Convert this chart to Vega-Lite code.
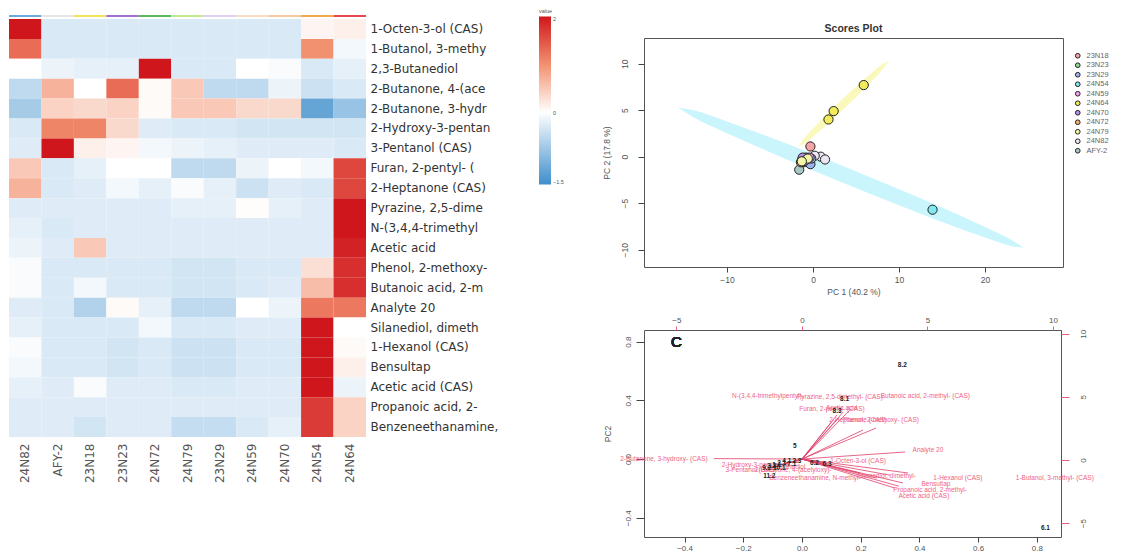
{
  "$schema": "https://vega.github.io/schema/vega-lite/v6.json",
  "background": "white",
  "padding": {"left": 9, "top": 9, "right": 0, "bottom": 0},
  "config": {"font": "Liberation Sans"},
  "spacing": 37,
  "resolve": {"scale": {"color": "independent", "fill": "independent"}, "legend": {"color": "independent", "fill": "independent"}},
  "hconcat": [
    {
      "vconcat": [
        {
          "width": 357,
          "height": 2,
          "view": {"stroke": null},
          "data": {"values": [{"sample": "24N82"}, {"sample": "AFY-2"}, {"sample": "23N18"}, {"sample": "23N23"}, {"sample": "24N72"}, {"sample": "24N79"}, {"sample": "23N29"}, {"sample": "24N59"}, {"sample": "24N70"}, {"sample": "24N54"}, {"sample": "24N64"}]},
          "mark": {"type": "rect"},
          "encoding": {
            "x": {"field": "sample", "type": "nominal", "sort": ["24N82", "AFY-2", "23N18", "23N23", "24N72", "24N79", "23N29", "24N59", "24N70", "24N54", "24N64"], "axis": null},
            "color": {"field": "sample", "type": "nominal", "legend": null,
              "scale": {"domain": ["24N82", "AFY-2", "23N18", "23N23", "24N72", "24N79", "23N29", "24N59", "24N70", "24N54", "24N64"],
                        "range": ["#6fa8dc", "#e6e6e6", "#f3e25a", "#a070d0", "#5cb85c", "#c2e894", "#ddd0f0", "#f8dcc8", "#f8c8a0", "#f0a848", "#e84850"]}}
          }
        },
        {
          "width": 357,
          "height": 418,
          "view": {"stroke": null},
          "data": {"values": [
            {"compound": "1-Octen-3-ol (CAS)", "24N82": 2.0, "AFY-2": -0.3, "23N18": -0.3, "23N23": -0.3, "24N72": -0.3, "24N79": -0.3, "23N29": -0.3, "24N59": -0.3, "24N70": -0.3, "24N54": 0.1, "24N64": 0.15},
            {"compound": "1-Butanol, 3-methy", "24N82": 1.3, "AFY-2": -0.3, "23N18": -0.3, "23N23": -0.3, "24N72": -0.3, "24N79": -0.3, "23N29": -0.3, "24N59": -0.3, "24N70": -0.3, "24N54": 1.0, "24N64": -0.1},
            {"compound": "2,3-Butanediol", "24N82": 0.0, "AFY-2": -0.15, "23N18": -0.2, "23N23": -0.2, "24N72": 2.0, "24N79": -0.3, "23N29": -0.3, "24N59": 0.0, "24N70": -0.05, "24N54": -0.3, "24N64": -0.2},
            {"compound": "2-Butanone, 4-(ace", "24N82": -0.5, "AFY-2": 0.7, "23N18": 0.0, "23N23": 1.3, "24N72": 0.05, "24N79": 0.5, "23N29": -0.5, "24N59": -0.5, "24N70": -0.15, "24N54": -0.4, "24N64": -0.3},
            {"compound": "2-Butanone, 3-hydr", "24N82": -0.7, "AFY-2": 0.4, "23N18": 0.35, "23N23": 0.4, "24N72": 0.05, "24N79": 0.5, "23N29": 0.5, "24N59": 0.35, "24N70": 0.35, "24N54": -1.2, "24N64": -0.8},
            {"compound": "2-Hydroxy-3-pentan", "24N82": -0.3, "AFY-2": 1.1, "23N18": 1.1, "23N23": 0.35, "24N72": -0.25, "24N79": -0.3, "23N29": -0.3, "24N59": -0.35, "24N70": -0.35, "24N54": -0.35, "24N64": -0.35},
            {"compound": "3-Pentanol (CAS)", "24N82": -0.25, "AFY-2": 2.0, "23N18": 0.15, "23N23": 0.1, "24N72": -0.1, "24N79": -0.15, "23N29": -0.2, "24N59": -0.25, "24N70": -0.25, "24N54": -0.25, "24N64": -0.3},
            {"compound": "Furan, 2-pentyl- (", "24N82": 0.5, "AFY-2": -0.3, "23N18": -0.2, "23N23": 0.0, "24N72": 0.0, "24N79": -0.5, "23N29": -0.5, "24N59": -0.15, "24N70": 0.0, "24N54": -0.1, "24N64": 1.6},
            {"compound": "2-Heptanone (CAS)", "24N82": 0.7, "AFY-2": -0.3, "23N18": -0.25, "23N23": -0.1, "24N72": -0.2, "24N79": -0.05, "23N29": -0.2, "24N59": -0.4, "24N70": -0.25, "24N54": -0.3, "24N64": 1.6},
            {"compound": "Pyrazine, 2,5-dime", "24N82": -0.25, "AFY-2": -0.25, "23N18": -0.25, "23N23": -0.25, "24N72": -0.25, "24N79": -0.2, "23N29": -0.2, "24N59": 0.02, "24N70": -0.2, "24N54": -0.25, "24N64": 2.0},
            {"compound": "N-(3,4,4-trimethyl", "24N82": -0.2, "AFY-2": -0.3, "23N18": -0.25, "23N23": -0.25, "24N72": -0.25, "24N79": -0.25, "23N29": -0.25, "24N59": -0.25, "24N70": -0.25, "24N54": -0.25, "24N64": 2.0},
            {"compound": "Acetic acid", "24N82": -0.15, "AFY-2": -0.25, "23N18": 0.5, "23N23": -0.25, "24N72": -0.25, "24N79": -0.25, "23N29": -0.25, "24N59": -0.25, "24N70": -0.25, "24N54": -0.25, "24N64": 1.9},
            {"compound": "Phenol, 2-methoxy-", "24N82": -0.05, "AFY-2": -0.3, "23N18": -0.3, "23N23": -0.3, "24N72": -0.3, "24N79": -0.35, "23N29": -0.35, "24N59": -0.3, "24N70": -0.3, "24N54": 0.3, "24N64": 1.8},
            {"compound": "Butanoic acid, 2-m", "24N82": -0.05, "AFY-2": -0.3, "23N18": -0.1, "23N23": -0.3, "24N72": -0.3, "24N79": -0.35, "23N29": -0.35, "24N59": -0.3, "24N70": -0.25, "24N54": 0.6, "24N64": 1.8},
            {"compound": "Analyte 20", "24N82": -0.25, "AFY-2": -0.3, "23N18": -0.6, "23N23": 0.05, "24N72": -0.2, "24N79": -0.5, "23N29": -0.5, "24N59": 0.0, "24N70": -0.15, "24N54": 1.2, "24N64": 1.2},
            {"compound": "Silanediol, dimeth", "24N82": -0.2, "AFY-2": -0.3, "23N18": -0.3, "23N23": -0.3, "24N72": -0.1, "24N79": -0.3, "23N29": -0.3, "24N59": -0.25, "24N70": -0.25, "24N54": 2.0, "24N64": 0.0},
            {"compound": "1-Hexanol (CAS)", "24N82": -0.05, "AFY-2": -0.3, "23N18": -0.3, "23N23": -0.35, "24N72": -0.3, "24N79": -0.4, "23N29": -0.4, "24N59": -0.3, "24N70": -0.3, "24N54": 2.0, "24N64": 0.05},
            {"compound": "Bensultap", "24N82": -0.1, "AFY-2": -0.3, "23N18": -0.3, "23N23": -0.35, "24N72": -0.3, "24N79": -0.4, "23N29": -0.4, "24N59": -0.3, "24N70": -0.3, "24N54": 2.0, "24N64": 0.15},
            {"compound": "Acetic acid (CAS)", "24N82": -0.2, "AFY-2": -0.25, "23N18": -0.05, "23N23": -0.25, "24N72": -0.25, "24N79": -0.3, "23N29": -0.3, "24N59": -0.25, "24N70": -0.25, "24N54": 2.0, "24N64": -0.15},
            {"compound": "Propanoic acid, 2-", "24N82": -0.25, "AFY-2": -0.25, "23N18": -0.25, "23N23": -0.25, "24N72": -0.25, "24N79": -0.25, "23N29": -0.25, "24N59": -0.25, "24N70": -0.25, "24N54": 1.7, "24N64": 0.4},
            {"compound": "Benzeneethanamine,", "24N82": -0.25, "AFY-2": -0.25, "23N18": -0.35, "23N23": -0.25, "24N72": -0.25, "24N79": -0.45, "23N29": -0.45, "24N59": -0.3, "24N70": -0.2, "24N54": 1.7, "24N64": 0.4}
          ]},
          "transform": [{"fold": ["24N82", "AFY-2", "23N18", "23N23", "24N72", "24N79", "23N29", "24N59", "24N70", "24N54", "24N64"], "as": ["sample", "value"]}],
          "mark": {"type": "rect"},
          "encoding": {
            "x": {"field": "sample", "type": "nominal", "sort": ["24N82", "AFY-2", "23N18", "23N23", "24N72", "24N79", "23N29", "24N59", "24N70", "24N54", "24N64"],
                  "axis": {"orient": "bottom", "title": null, "ticks": false, "domain": false, "labelAngle": -90, "labelAlign": "right", "labelBaseline": "middle", "labelPadding": 6, "labelFont": "DejaVu Sans", "labelFontSize": 12, "labelColor": "#555"}},
            "y": {"field": "compound", "type": "nominal",
                  "sort": ["1-Octen-3-ol (CAS)", "1-Butanol, 3-methy", "2,3-Butanediol", "2-Butanone, 4-(ace", "2-Butanone, 3-hydr", "2-Hydroxy-3-pentan", "3-Pentanol (CAS)", "Furan, 2-pentyl- (", "2-Heptanone (CAS)", "Pyrazine, 2,5-dime", "N-(3,4,4-trimethyl", "Acetic acid", "Phenol, 2-methoxy-", "Butanoic acid, 2-m", "Analyte 20", "Silanediol, dimeth", "1-Hexanol (CAS)", "Bensultap", "Acetic acid (CAS)", "Propanoic acid, 2-", "Benzeneethanamine,"],
                  "axis": {"orient": "right", "title": null, "ticks": false, "domain": false, "labelPadding": 4, "labelFont": "DejaVu Sans", "labelFontSize": 12, "labelColor": "#333", "labelLimit": 300}},
            "color": {"field": "value", "type": "quantitative",
                      "scale": {"domain": [-1.5, 0, 1, 2], "range": ["#3f8fcc", "#ffffff", "#f2916f", "#d0161d"], "interpolate": "rgb"},
                      "legend": {"orient": "none", "legendX": 530, "legendY": -10, "title": "value", "titleFontSize": 5.5, "titleFontWeight": "normal", "titleColor": "#555", "titlePadding": 2, "gradientLength": 168, "gradientThickness": 12, "gradientStrokeWidth": 0, "labelFontSize": 5.5, "labelColor": "#555", "labelOffset": 2, "values": [-1.5, 0, 2], "format": ".1~f", "direction": "vertical"}}
          }
        }
      ],
      "spacing": 2,
      "bounds": "flush",
      "resolve": {"scale": {"color": "independent"}, "legend": {"color": "independent"}}
    },
    {
      "vconcat": [
        {
          "width": 419,
          "height": 23,
          "view": {"stroke": null},
          "data": {"values": [{"t": "Scores Plot"}]},
          "mark": {"type": "text", "fontSize": 10.5, "fontWeight": "bold", "color": "#333", "dy": 2},
          "encoding": {"text": {"field": "t"}}
        },
        {
          "width": 419,
          "height": 229,
          "view": {"stroke": "#555", "strokeWidth": 1},
          "layer": [
            {
              "data": {"values": [
                {"sample": "24N54", "pc1": -15.7, "lo": 5.3, "hi": 5.3},
                {"sample": "24N54", "pc1": -14, "lo": 4.3, "hi": 5.02},
                {"sample": "24N54", "pc1": -10, "lo": 2.53, "hi": 3.79},
                {"sample": "24N54", "pc1": -5, "lo": 0.48, "hi": 2.08},
                {"sample": "24N54", "pc1": 0, "lo": -1.48, "hi": 0.28},
                {"sample": "24N54", "pc1": 4.4, "lo": -3.15, "hi": -1.35},
                {"sample": "24N54", "pc1": 10, "lo": -5.22, "hi": -3.5},
                {"sample": "24N54", "pc1": 15, "lo": -7.01, "hi": -5.47},
                {"sample": "24N54", "pc1": 20, "lo": -8.69, "hi": -7.55},
                {"sample": "24N54", "pc1": 23, "lo": -9.59, "hi": -8.91},
                {"sample": "24N54", "pc1": 24.5, "lo": -9.8, "hi": -9.8},
                {"sample": "24N64", "pc1": -1.7, "lo": 1.1, "hi": 1.1},
                {"sample": "24N64", "pc1": -1, "lo": 1.41, "hi": 2.01},
                {"sample": "24N64", "pc1": 0, "lo": 2.15, "hi": 3.03},
                {"sample": "24N64", "pc1": 2, "lo": 3.77, "hi": 4.91},
                {"sample": "24N64", "pc1": 3.55, "lo": 5.1, "hi": 6.3},
                {"sample": "24N64", "pc1": 5, "lo": 6.39, "hi": 7.55},
                {"sample": "24N64", "pc1": 7, "lo": 8.27, "hi": 9.17},
                {"sample": "24N64", "pc1": 8, "lo": 9.28, "hi": 9.92},
                {"sample": "24N64", "pc1": 8.8, "lo": 10.3, "hi": 10.3}
              ]},
              "mark": {"type": "area", "opacity": 0.6, "interpolate": "monotone"},
              "encoding": {
                "x": {"field": "pc1", "type": "quantitative", "scale": {"domain": [-19.65, 29.07], "nice": false, "zero": false},
                      "axis": {"values": [-10, 0, 10, 20], "title": "PC 1 (40.2 %)", "domain": false, "grid": false, "tickColor": "#444", "tickSize": 5, "labelFontSize": 8.5, "labelColor": "#555", "labelPadding": 3, "titleFontSize": 8.5, "titleFontWeight": "normal", "titleColor": "#555", "titlePadding": 4}},
                "y": {"field": "lo", "type": "quantitative", "scale": {"domain": [-11.86, 12.76], "nice": false, "zero": false},
                      "axis": {"values": [-10, -5, 0, 5, 10], "title": "PC 2 (17.8 %)", "domain": false, "grid": false, "tickColor": "#444", "tickSize": 6, "labelAngle": -90, "labelAlign": "center", "labelBaseline": "bottom", "labelFontSize": 8.5, "labelColor": "#555", "labelPadding": 9, "titleFontSize": 8.5, "titleFontWeight": "normal", "titleColor": "#555", "titlePadding": 9}},
                "y2": {"field": "hi"},
                "fill": {"field": "sample", "type": "nominal", "scale": {"domain": ["24N54", "24N64"], "range": ["#a6eefa", "#f6f58e"]}, "legend": null}
              }
            },
            {
              "data": {"values": [
                {"sample": "24N64", "pc1": 5.9, "pc2": 7.7},
                {"sample": "24N64", "pc1": 2.4, "pc2": 4.9},
                {"sample": "24N64", "pc1": 1.8, "pc2": 4.0},
                {"sample": "24N54", "pc1": 13.9, "pc2": -5.7},
                {"sample": "24N54", "pc1": -0.7, "pc2": -0.3},
                {"sample": "24N54", "pc1": -0.5, "pc2": -0.6},
                {"sample": "23N18", "pc1": -0.3, "pc2": 1.1},
                {"sample": "23N18", "pc1": -1.1, "pc2": -0.6},
                {"sample": "23N18", "pc1": -0.9, "pc2": -0.2},
                {"sample": "24N82", "pc1": 0.9, "pc2": 0.0},
                {"sample": "24N82", "pc1": 1.4, "pc2": -0.3},
                {"sample": "24N82", "pc1": 0.2, "pc2": 0.1},
                {"sample": "23N29", "pc1": -0.3, "pc2": -0.8},
                {"sample": "23N29", "pc1": -0.2, "pc2": -0.2},
                {"sample": "AFY-2", "pc1": -1.6, "pc2": -1.4},
                {"sample": "AFY-2", "pc1": -1.3, "pc2": -0.4},
                {"sample": "23N23", "pc1": -1.2, "pc2": -0.5},
                {"sample": "23N23", "pc1": -1.0, "pc2": -0.3},
                {"sample": "24N72", "pc1": -0.8, "pc2": -0.1},
                {"sample": "24N72", "pc1": -1.4, "pc2": -0.6},
                {"sample": "24N70", "pc1": -1.0, "pc2": -0.2},
                {"sample": "24N70", "pc1": -1.2, "pc2": -0.1},
                {"sample": "24N59", "pc1": -0.9, "pc2": -0.4},
                {"sample": "24N59", "pc1": -0.4, "pc2": -0.1},
                {"sample": "24N79", "pc1": -0.6, "pc2": -0.2},
                {"sample": "24N79", "pc1": -1.3, "pc2": -0.5}
              ]},
              "mark": {"type": "point", "filled": true, "stroke": "#222", "strokeWidth": 1, "size": 85, "opacity": 1},
              "encoding": {
                "x": {"field": "pc1", "type": "quantitative", "scale": {"domain": [-19.65, 29.07], "nice": false, "zero": false},
                      "axis": {"values": [-10, 0, 10, 20], "title": "PC 1 (40.2 %)", "domain": false, "grid": false, "tickColor": "#444", "tickSize": 5, "labelFontSize": 8.5, "labelColor": "#555", "labelPadding": 3, "titleFontSize": 8.5, "titleFontWeight": "normal", "titleColor": "#555", "titlePadding": 4}},
                "y": {"field": "pc2", "type": "quantitative", "scale": {"domain": [-11.86, 12.76], "nice": false, "zero": false},
                      "axis": {"values": [-10, -5, 0, 5, 10], "title": "PC 2 (17.8 %)", "domain": false, "grid": false, "tickColor": "#444", "tickSize": 6, "labelAngle": -90, "labelAlign": "center", "labelBaseline": "bottom", "labelFontSize": 8.5, "labelColor": "#555", "labelPadding": 9, "titleFontSize": 8.5, "titleFontWeight": "normal", "titleColor": "#555", "titlePadding": 9}},
                "color": {"field": "sample", "type": "nominal",
                          "scale": {"domain": ["23N18", "23N23", "23N29", "24N54", "24N59", "24N64", "24N70", "24N72", "24N79", "24N82", "AFY-2"],
                                    "range": ["#f5a3a3", "#90d890", "#9bb4f0", "#80e8ee", "#f5a0f5", "#f2ec5a", "#b58ce8", "#f5b070", "#f5f5a8", "#ece6f2", "#a8c8c4"]},
                          "legend": {"orient": "none", "legendX": 430, "legendY": 14, "title": null, "labelFontSize": 7.5, "labelColor": "#666", "symbolSize": 22, "symbolType": "circle", "symbolStrokeWidth": 1, "rowPadding": -0.5, "labelOffset": 5}}
              }
            },
            {
              "mark": {"type": "text", "text": "B", "fontSize": 15, "color": "#222", "align": "left", "baseline": "middle"},
              "encoding": {"x": {"datum": -16.9}, "y": {"datum": 11.15}}
            }
          ]
        },
        {
          "width": 419,
          "height": 63,
          "view": {"stroke": null},
          "data": {"values": []},
          "mark": "point"
        },
        {
          "width": 417,
          "height": 207,
          "view": {"stroke": "#555", "strokeWidth": 1},
          "resolve": {"scale": {"x": "independent", "y": "independent"}},
          "layer": [
            {
              "data": {"values": [
                {"compound": "N-(3,4,4-trimethylpentyl)-", "pc1": 0.163, "pc2": 0.334, "lx": -0.116, "ly": 0.429},
                {"compound": "Pyrazine, 2,5-dimethyl- (CAS)", "pc1": 0.14, "pc2": 0.32, "lx": 0.129, "ly": 0.422},
                {"compound": "Butanoic acid, 2-methyl- (CAS)", "pc1": 0.119, "pc2": 0.3, "lx": 0.42, "ly": 0.429},
                {"compound": "Furan, 2-pentyl- (CAS)", "pc1": 0.1, "pc2": 0.25, "lx": 0.102, "ly": 0.341},
                {"compound": "Acetic acid", "pc1": 0.125, "pc2": 0.28, "lx": 0.135, "ly": 0.345},
                {"compound": "Phenol, 2-methoxy- (CAS)", "pc1": 0.252, "pc2": 0.211, "lx": 0.269, "ly": 0.266},
                {"compound": "2-Heptanone (CAS)", "pc1": 0.208, "pc2": 0.198, "lx": 0.19, "ly": 0.266},
                {"compound": "Analyte 20", "pc1": 0.351, "pc2": 0.048, "lx": 0.429, "ly": 0.061},
                {"compound": "2-Butanone, 3-hydroxy- (CAS)", "pc1": -0.3, "pc2": 0.003, "lx": -0.47, "ly": 0.0},
                {"compound": "1-Octen-3-ol (CAS)", "pc1": 0.085, "pc2": -0.027, "lx": 0.191, "ly": -0.014},
                {"compound": "2-Hydroxy-3-pentanone", "pc1": -0.075, "pc2": -0.04, "lx": -0.157, "ly": -0.041},
                {"compound": "3-Pentanol (CAS)", "pc1": -0.099, "pc2": -0.054, "lx": -0.174, "ly": -0.075},
                {"compound": "2,3-Butanediol", "pc1": -0.034, "pc2": -0.027, "lx": -0.06, "ly": -0.055},
                {"compound": "2-Butanone, 4-(acetyloxy)-", "pc1": -0.06, "pc2": -0.035, "lx": -0.03, "ly": -0.075},
                {"compound": "Benzeneethanamine, N-methyl-", "pc1": 0.197, "pc2": -0.095, "lx": 0.044, "ly": -0.129},
                {"compound": "Silanediol, dimethyl-", "pc1": 0.361, "pc2": -0.095, "lx": 0.289, "ly": -0.116},
                {"compound": "1-Hexanol (CAS)", "pc1": 0.255, "pc2": -0.13, "lx": 0.531, "ly": -0.129},
                {"compound": "1-Butanol, 3-methyl- (CAS)", "pc1": 0.3, "pc2": -0.11, "lx": 0.861, "ly": -0.129},
                {"compound": "Bensultap", "pc1": 0.344, "pc2": -0.163, "lx": 0.456, "ly": -0.17},
                {"compound": "Propanoic acid, 2-methyl-", "pc1": 0.317, "pc2": -0.198, "lx": 0.436, "ly": -0.211},
                {"compound": "Acetic acid (CAS)", "pc1": 0.33, "pc2": -0.185, "lx": 0.415, "ly": -0.252}
              ]},
              "layer": [
                {
                  "mark": {"type": "rule", "color": "#e0406a", "strokeWidth": 0.8},
                  "encoding": {
                    "x": {"field": "pc1", "type": "quantitative", "scale": {"domain": [-0.538, 0.882], "nice": false, "zero": false},
                          "axis": {"values": [-0.4, -0.2, 0, 0.2, 0.4, 0.6, 0.8], "format": ".1f", "title": "PC1", "domain": false, "grid": false, "tickColor": "#444", "tickSize": 5, "labelFontSize": 8, "labelColor": "#555", "labelPadding": 2, "titleFontSize": 8.5, "titleFontWeight": "normal", "titleColor": "#555", "titlePadding": 3}},
                    "y": {"field": "pc2", "type": "quantitative", "scale": {"domain": [-0.531, 0.879], "nice": false, "zero": false},
                          "axis": {"values": [-0.4, -0.2, 0, 0.2, 0.4, 0.6, 0.8], "format": ".1f", "title": "PC2", "domain": false, "grid": false, "tickColor": "#444", "tickSize": 8, "labelAngle": -90, "labelAlign": "center", "labelBaseline": "bottom", "labelFontSize": 8, "labelColor": "#555", "labelPadding": 4, "titleFontSize": 8.5, "titleFontWeight": "normal", "titleColor": "#555", "titlePadding": 12}},
                    "x2": {"datum": 0},
                    "y2": {"datum": 0}
                  }
                },
                {
                  "mark": {"type": "text", "fontSize": 6.5, "color": "#ef5f84"},
                  "encoding": {
                    "x": {"field": "lx", "type": "quantitative", "scale": {"domain": [-0.538, 0.882], "nice": false, "zero": false},
                          "axis": {"values": [-0.4, -0.2, 0, 0.2, 0.4, 0.6, 0.8], "format": ".1f", "title": "PC1", "domain": false, "grid": false, "tickColor": "#444", "tickSize": 5, "labelFontSize": 8, "labelColor": "#555", "labelPadding": 2, "titleFontSize": 8.5, "titleFontWeight": "normal", "titleColor": "#555", "titlePadding": 3}},
                    "y": {"field": "ly", "type": "quantitative", "scale": {"domain": [-0.531, 0.879], "nice": false, "zero": false},
                          "axis": {"values": [-0.4, -0.2, 0, 0.2, 0.4, 0.6, 0.8], "format": ".1f", "title": "PC2", "domain": false, "grid": false, "tickColor": "#444", "tickSize": 8, "labelAngle": -90, "labelAlign": "center", "labelBaseline": "bottom", "labelFontSize": 8, "labelColor": "#555", "labelPadding": 4, "titleFontSize": 8.5, "titleFontWeight": "normal", "titleColor": "#555", "titlePadding": 12}},
                    "text": {"field": "compound"}
                  }
                },
                {
                  "mark": {"type": "text", "text": "C", "fontSize": 15, "color": "#222", "align": "left", "baseline": "middle"},
                  "encoding": {"x": {"datum": -0.446}, "y": {"datum": 0.8}}
                }
              ]
            },
            {
              "data": {"values": [
                {"obs": "8.2", "s1": 4.0, "s2": 7.5},
                {"obs": "6.1", "s1": 9.7, "s2": -5.4},
                {"obs": "11.2", "s1": -1.3, "s2": -1.3},
                {"obs": "5", "s1": -0.28, "s2": 1.1},
                {"obs": "8.1", "s1": 1.7, "s2": 4.8},
                {"obs": "8.3", "s1": 1.4, "s2": 3.9},
                {"obs": "1.1", "s1": -1.0, "s2": -0.4},
                {"obs": "2.1", "s1": -0.8, "s2": -0.2},
                {"obs": "3.2", "s1": -1.2, "s2": -0.5},
                {"obs": "4.1", "s1": -0.6, "s2": -0.1},
                {"obs": "7.1", "s1": -0.4, "s2": -0.3},
                {"obs": "9.2", "s1": -1.4, "s2": -0.6},
                {"obs": "10.1", "s1": -0.9, "s2": -0.6},
                {"obs": "2.3", "s1": -0.2, "s2": -0.1},
                {"obs": "6.2", "s1": 0.5, "s2": -0.2},
                {"obs": "6.3", "s1": 1.0, "s2": -0.3}
              ]},
              "mark": {"type": "text", "fontSize": 6.5, "fontWeight": "bold", "color": "#222"},
              "encoding": {
                "x": {"field": "s1", "type": "quantitative", "scale": {"domain": [-6.29, 10.32], "nice": false, "zero": false},
                      "axis": {"orient": "top", "values": [-5, 0, 5, 10], "title": null, "domain": false, "grid": false, "tickColor": "#e8607e", "tickSize": 4, "labelFontSize": 8, "labelColor": "#555", "labelPadding": 2}},
                "y": {"field": "s2", "type": "quantitative", "scale": {"domain": [-6.1, 10.3], "nice": false, "zero": false},
                      "axis": {"orient": "right", "values": [-5, 0, 5, 10], "title": null, "domain": false, "grid": false, "tickColor": "#e8607e", "tickSize": 8, "labelAngle": -90, "labelAlign": "center", "labelBaseline": "top", "labelFontSize": 8, "labelColor": "#555", "labelPadding": 10}},
                "text": {"field": "obs"}
              }
            }
          ]
        }
      ],
      "spacing": 0,
      "bounds": "flush",
      "resolve": {"scale": {"color": "independent", "fill": "independent"}, "legend": {"color": "independent", "fill": "independent"}}
    }
  ]
}
